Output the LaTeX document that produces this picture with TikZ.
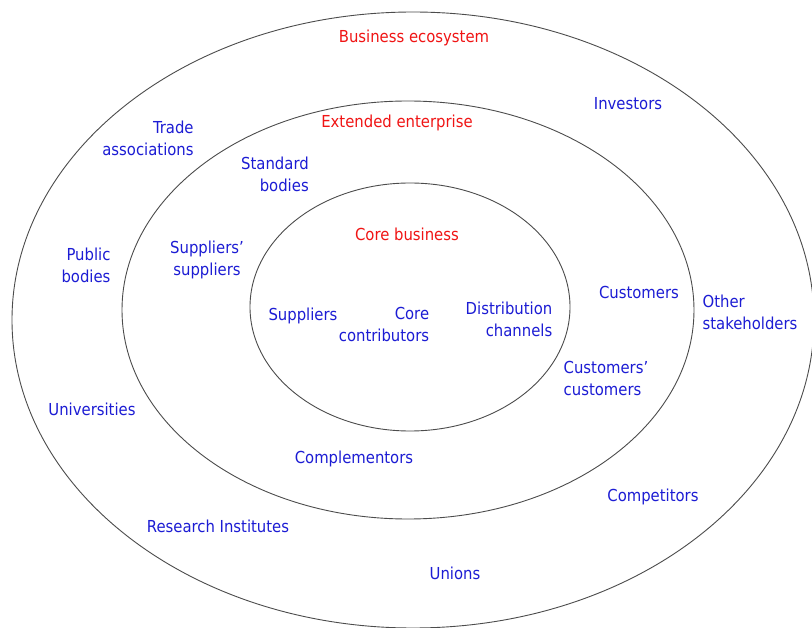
\documentclass[tikz,border=0pt]{standalone}
\usepackage{fontspec}
\setmainfont{DejaVu Sans Condensed}
\definecolor{lblblue}{RGB}{28,28,212}
\definecolor{lblred}{RGB}{240,20,20}
\begin{document}
\begin{tikzpicture}[x=1pt,y=-1pt,
  ring/.style={draw=black!70,line width=0.9pt},
  lbl/.style={text=lblblue,inner sep=0pt,font=\fontsize{16.5}{22}\selectfont},
  ttl/.style={lbl,text=lblred}]
\useasboundingbox (0,0) rectangle (812,628);
\clip (0,0) rectangle (812,628);
\fill[white] (0,0) rectangle (812,628);
% rings
\draw[ring] (413,320) ellipse [x radius=401pt, y radius=308pt];
\draw[ring] (408,310) ellipse [x radius=286pt, y radius=209pt];
\draw[ring] (410,307) ellipse [x radius=160pt, y radius=124pt];
% titles
\node[ttl] (eco) at (414,38) {Business ecosystem};
\node[ttl] (ext) at (397,123) {Extended enterprise};
\node[ttl] (core) at (407,234) {Core business};
% outer ring
\node[lbl] (inv) at (628,104) {Investors};
\node[lbl,align=right] (trade) at (148,138) {Trade\\associations};
\node[lbl,align=right] (pub) at (86,265) {Public\\bodies};
\node[lbl] (uni) at (92,409) {Universities};
\node[lbl] (res) at (218,526) {Research Institutes};
\node[lbl] (uns) at (455,573) {Unions};
\node[lbl] (comp) at (653,497) {Competitors};
\node[lbl,align=left] (oth) at (750,312) {Other\\stakeholders};
% middle ring
\node[lbl,align=right] (std) at (275,174) {Standard\\bodies};
\node[lbl,align=center] (ssup) at (207,260) {Suppliers'\\suppliers};
\node[lbl] (cust) at (639,292) {Customers};
\node[lbl,align=left] (ccust) at (606,378) {Customers'\\customers};
\node[lbl] (cmpl) at (354,459) {Complementors};
% inner
\node[lbl] (sup) at (303,316) {Suppliers};
\node[lbl,align=right] (cc) at (384,324) {Core\\contributors};
\node[lbl,align=right] (dist) at (509,319) {Distribution\\channels};
\end{tikzpicture}
\end{document}
